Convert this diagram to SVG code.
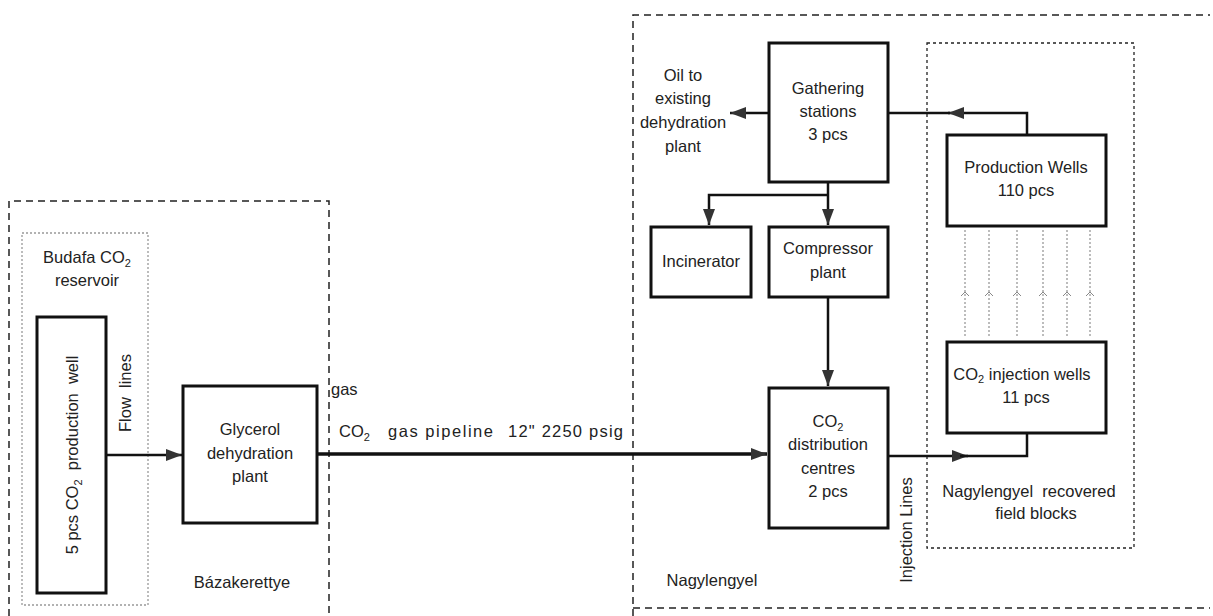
<svg xmlns="http://www.w3.org/2000/svg" width="1213" height="616" viewBox="0 0 1213 616">
<defs>
<marker id="ah" viewBox="0 0 16 12" refX="16" refY="6" markerWidth="16" markerHeight="12" markerUnits="userSpaceOnUse" orient="auto">
<path d="M0,0 L16,6 L0,12 Z" fill="#333"/>
</marker>
</defs>
<style>
text{font-family:"Liberation Sans",Arial,sans-serif;font-size:16.5px;fill:#222;text-anchor:middle;white-space:pre}
.box{fill:#fff;stroke:#111;stroke-width:3}
.dash{fill:none;stroke:#222;stroke-width:1.5;stroke-dasharray:7,5}
.dot{fill:none;stroke:#222;stroke-width:1.3;stroke-dasharray:3,3}
.dotg{fill:none;stroke:#999;stroke-width:1.3;stroke-dasharray:2,2}
.ln{fill:none;stroke:#111;stroke-width:2.5}
.thick{fill:none;stroke:#111;stroke-width:3.5}
.sub{font-size:11px}
</style>
<rect width="1213" height="616" fill="#fff"/>
<g id="areas">
<path class="dash" d="M9,616 L9,201 L329,201 L329,616"/>
<rect class="dotg" x="22" y="233" width="126" height="372"/>
<path class="dash" d="M633,616 L633,15 L1210,15"/>
<path class="dash" d="M633,608 L1210,608"/>
<rect class="dot" x="927" y="43" width="207" height="505"/>
<path class="dotg" d="M965,230 V337 M989,230 V337 M1017,230 V337 M1043,230 V337 M1067,230 V337 M1090,230 V337"/>
<path d="M961,296 L965,292 L969,296 M985,296 L989,292 L993,296 M1013,296 L1017,292 L1021,296 M1039,296 L1043,292 L1047,296 M1063,296 L1067,292 L1071,296 M1086,296 L1090,292 L1094,296" fill="none" stroke="#888" stroke-width="1"/>
</g>
<g id="labels">
<text x="87" y="263" xml:space="preserve">Budafa CO<tspan class="sub" dy="4">2</tspan></text>
<text x="87" y="286">reservoir</text>
<text x="131" y="393" transform="rotate(-90 131 393)" xml:space="preserve">Flow  lines</text>
<text x="242" y="588">Bázakerettye</text>
<text x="331" y="395" style="text-anchor:start">gas</text>
<text x="339" y="437" style="text-anchor:start">CO<tspan class="sub" dy="4">2</tspan></text>
<text x="388" y="437" style="text-anchor:start" textLength="105" lengthAdjust="spacing">gas pipeline</text>
<text x="508" y="437" style="text-anchor:start" textLength="115" lengthAdjust="spacing">12" 2250 psig</text>
<text x="683" y="81">Oil to</text>
<text x="683" y="104">existing</text>
<text x="683" y="128">dehydration</text>
<text x="683" y="152">plant</text>
<text x="712" y="586">Nagylengyel</text>
<text x="912" y="530" transform="rotate(-90 912 530)">Injection Lines</text>
<text x="1029" y="497" xml:space="preserve">Nagylengyel  recovered</text>
<text x="1036" y="519">field blocks</text>
</g>
<g id="connectors">
<line class="ln" x1="106" y1="455" x2="182" y2="455" marker-end="url(#ah)"/>
<line class="thick" x1="317" y1="454" x2="767" y2="454" marker-end="url(#ah)"/>
<line class="ln" x1="769" y1="113" x2="730" y2="113" marker-end="url(#ah)"/>
<path class="ln" d="M1027,135 V113 H948" marker-end="url(#ah)"/>
<line class="ln" x1="950" y1="113" x2="888" y2="113"/>
<line class="ln" x1="828" y1="182" x2="828" y2="225" marker-end="url(#ah)"/>
<path class="ln" d="M828,195 H709 V225" marker-end="url(#ah)"/>
<line class="ln" x1="828" y1="297" x2="828" y2="386" marker-end="url(#ah)"/>
<line class="ln" x1="888" y1="456" x2="968" y2="456" marker-end="url(#ah)"/>
<path class="ln" d="M960,456 H1027 V433"/>
</g>
<g id="well5">
<rect class="box" x="37" y="317" width="69" height="276"/>
<text x="78" y="455" transform="rotate(-90 78 455)" xml:space="preserve">5 pcs CO<tspan class="sub" dy="4">2</tspan><tspan dy="-4">  production  well</tspan></text>
</g>
<g id="glycerol">
<rect class="box" x="183" y="386" width="134" height="137"/>
<text x="250" y="435">Glycerol</text>
<text x="250" y="459">dehydration</text>
<text x="250" y="482">plant</text>
</g>
<g id="gathering">
<rect class="box" x="769" y="43" width="119" height="139"/>
<text x="828" y="94">Gathering</text>
<text x="828" y="117">stations</text>
<text x="828" y="140">3 pcs</text>
</g>
<g id="incinerator">
<rect class="box" x="651" y="227" width="100" height="70"/>
<text x="701" y="267">Incinerator</text>
</g>
<g id="compressor">
<rect class="box" x="769" y="227" width="119" height="70"/>
<text x="828" y="254">Compressor</text>
<text x="828" y="278">plant</text>
</g>
<g id="distribution">
<rect class="box" x="769" y="388" width="119" height="140"/>
<text x="828" y="427">CO<tspan class="sub" dy="4">2</tspan></text>
<text x="828" y="450">distribution</text>
<text x="828" y="474">centres</text>
<text x="828" y="497">2 pcs</text>
</g>
<g id="production">
<rect class="box" x="947" y="135" width="159" height="91"/>
<text x="1026" y="173">Production Wells</text>
<text x="1026" y="196">110 pcs</text>
</g>
<g id="injection">
<rect class="box" x="947" y="342" width="159" height="91"/>
<text x="1022" y="380">CO<tspan class="sub" dy="3">2</tspan><tspan dy="-3"> injection wells</tspan></text>
<text x="1026" y="403">11 pcs</text>
</g>
</svg>
